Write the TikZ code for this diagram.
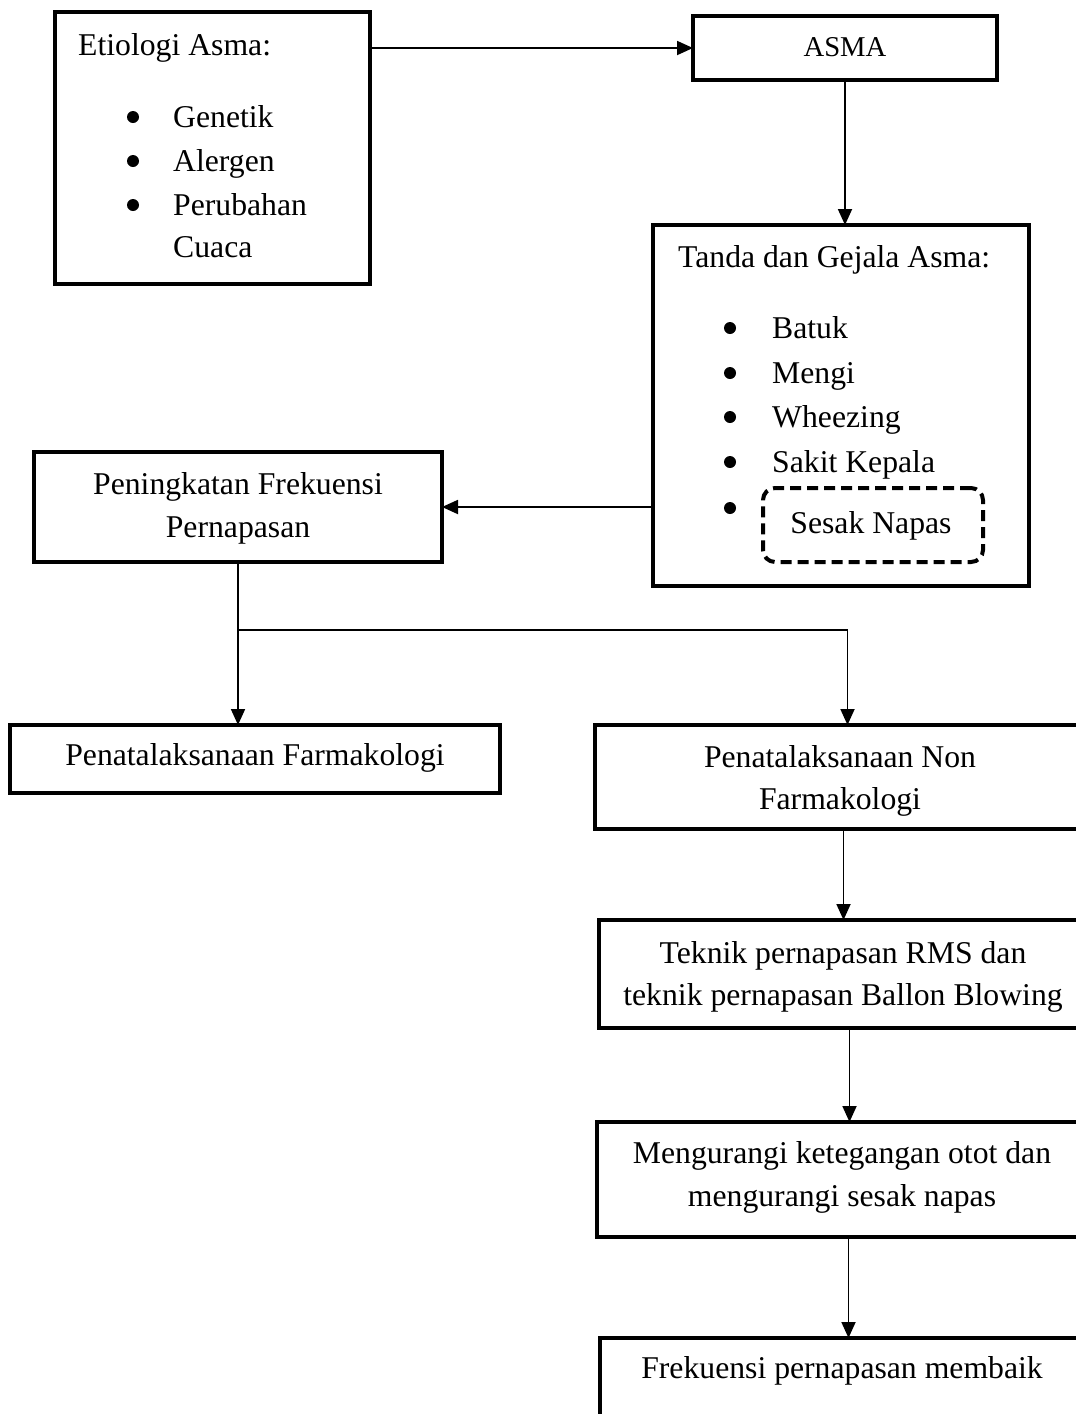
\documentclass[tikz,border=0pt]{standalone}
\usepackage{fontspec}
\setmainfont{Liberation Serif}
\usetikzlibrary{arrows.meta}
\begin{document}
\begin{tikzpicture}[x=1pt,y=-1pt,
  box/.style={draw, line width=4.5pt, rectangle, inner sep=0pt, outer sep=0pt},
  dbox/.style={draw, line width=4pt, dash pattern=on 11pt off 6pt, rounded corners=12pt, rectangle, inner sep=0pt, outer sep=0pt},
  arr/.style={line width=1.8pt, -{Triangle[length=16pt,width=14pt]}},
  txt/.style={inner sep=0pt, anchor=base, font=\fontsize{31.7}{42}\selectfont},
  txtw/.style={txt, anchor=base west},
  bul/.style={circle, fill, inner sep=0pt, minimum size=12pt}
]
\useasboundingbox (0,0) rectangle (1076,1414);
\clip (0,0) rectangle (1076,1414);

% boxes
\node[box, minimum width=315pt, minimum height=272pt] (etio) at (212.5,148) {};
\node[box, minimum width=304pt, minimum height=64pt] (asma) at (845,48) {};
\node[box, minimum width=376pt, minimum height=361pt] (tanda) at (841,405.5) {};
\node[dbox, minimum width=220pt, minimum height=74pt] (sesak) at (873,525) {};
\node[box, minimum width=408pt, minimum height=110pt] (pen) at (238,507) {};
\node[box, minimum width=490pt, minimum height=68pt] (farm) at (255,759) {};
\node[box, minimum width=505pt, minimum height=104pt] (nonf) at (847.5,777) {};
\node[box, minimum width=501pt, minimum height=108pt] (tek) at (849.5,974) {};
\node[box, minimum width=503pt, minimum height=115pt] (meng) at (848.5,1179.5) {};
\node[box, minimum width=500pt, minimum height=112pt] (frek) at (850,1394) {};

% texts: Etiologi
\node[txtw] (t-etio) at (78,55) {Etiologi Asma:};
\node[bul] (b-e1) at (133,117) {};
\node[bul] (b-e2) at (133,161) {};
\node[bul] (b-e3) at (133,205) {};
\node[txtw] (t-gen) at (173,127) {Genetik};
\node[txtw] (t-ale) at (173,171) {Alergen};
\node[txtw] (t-per) at (173,215) {Perubahan};
\node[txtw] (t-cua) at (173,257) {Cuaca};

% ASMA
\node[txt, font=\fontsize{28.7}{34}\selectfont] (t-asma) at (845,56) {ASMA};

% Tanda
\node[txtw] (t-tanda) at (678,267) {Tanda dan Gejala Asma:};
\node[bul] (b-t1) at (730,328) {};
\node[bul] (b-t2) at (730,373) {};
\node[bul] (b-t3) at (730,417) {};
\node[bul] (b-t4) at (730,462) {};
\node[bul] (b-t5) at (730,508) {};
\node[txtw] (t-bat) at (772,338) {Batuk};
\node[txtw] (t-men) at (772,383) {Mengi};
\node[txtw] (t-whe) at (772,427) {Wheezing};
\node[txtw] (t-sak) at (772,472) {Sakit Kepala};
\node[txt] (t-ses) at (871,533) {Sesak Napas};

% Peningkatan
\node[txt] (t-pen1) at (238,494) {Peningkatan Frekuensi};
\node[txt] (t-pen2) at (238,537) {Pernapasan};

% Farmakologi
\node[txt] (t-farm) at (255,765) {Penatalaksanaan Farmakologi};

% Non Farmakologi
\node[txt] (t-nonf1) at (840,767) {Penatalaksanaan Non};
\node[txt] (t-nonf2) at (840,809) {Farmakologi};

% Teknik
\node[txt] (t-tek1) at (843,963) {Teknik pernapasan RMS dan};
\node[txt] (t-tek2) at (843,1005) {teknik pernapasan Ballon Blowing};

% Mengurangi
\node[txt] (t-meng1) at (842,1163) {Mengurangi ketegangan otot dan};
\node[txt] (t-meng2) at (842,1206) {mengurangi sesak napas};

% Frekuensi
\node[txt] (t-frek) at (842,1378) {Frekuensi pernapasan membaik};

% connectors
\draw[arr] (etio.east |- asma.west) -- (asma.west);
\draw[arr] (asma.south) -- (asma.south |- tanda.north);
\draw[arr] (tanda.west |- pen.east) -- (pen.east);
\draw[arr] (pen.south) -- (pen.south |- farm.north);
\coordinate (br) at (238,630);
\draw[arr] (br) -| (nonf.north);
\draw[arr] ([xshift=-4pt]nonf.south) -- ([xshift=-4pt]nonf.south |- tek.north);
\draw[arr] (tek.south) -- (tek.south |- meng.north);
\draw[arr] (meng.south) -- (meng.south |- frek.north);
\end{tikzpicture}
\end{document}
